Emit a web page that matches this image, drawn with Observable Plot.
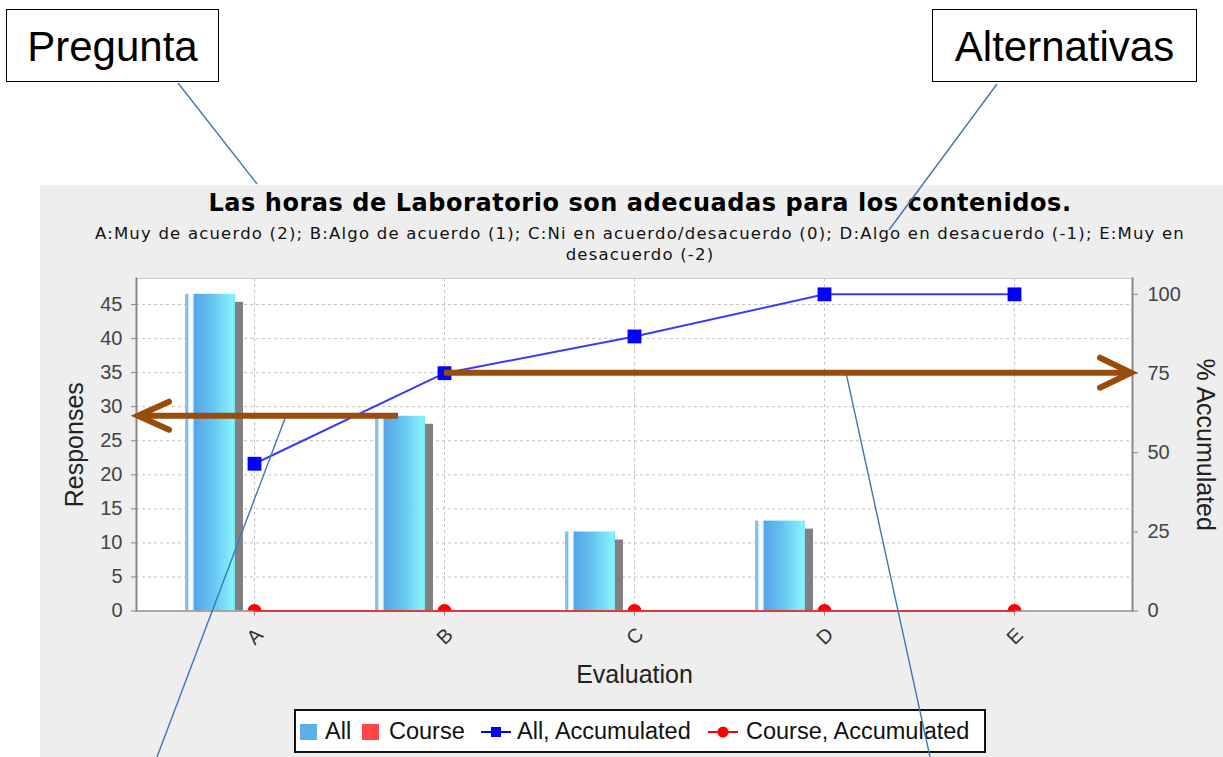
<!DOCTYPE html>
<html>
<head>
<meta charset="utf-8">
<script src="https://cdn.jsdelivr.net/npm/d3@7"></script>
<script src="https://cdn.jsdelivr.net/npm/@observablehq/plot@0.6"></script>
<style>
html, body { margin: 0; padding: 0; background: #ffffff; }
body { width: 1223px; height: 757px; position: relative; overflow: hidden; font-family: "Liberation Sans", Arial, sans-serif; }
.callout { position: absolute; border: 1.5px solid #000; background: #fff; box-sizing: border-box; }
.callout span { position: absolute; left: 0; right: 0; text-align: center; font-size: 42px; line-height: 42px; color: #000; }
#panel { position: absolute; left: 40px; top: 185px; width: 1183px; height: 572px; background: #eeeeee; }
#title { position: absolute; left: 40px; width: 1200px; top: 191px; text-align: center; font-family: "DejaVu Sans", sans-serif; font-weight: bold; font-size: 24px; letter-spacing: 0.55px; line-height: 24px; color: #000; white-space: nowrap; }
#subtitle { position: absolute; left: 40px; width: 1200px; top: 223px; text-align: center; font-family: "DejaVu Sans", sans-serif; font-size: 16.5px; letter-spacing: 1.2px; line-height: 21px; color: #111; white-space: nowrap; }
#chart { position: absolute; left: 40px; top: 270px; }
#legend { position: absolute; left: 294px; top: 709px; width: 692px; height: 44px; box-sizing: border-box; border: 2px solid #111; background: #fff; font-size: 23.5px; color: #111; }
#legend .it { position: absolute; top: 0; height: 40px; line-height: 40px; white-space: nowrap; }
#legend .sw { position: absolute; }
#overlay { position: absolute; left: 0; top: 0; pointer-events: none; }
</style>
</head>
<body>
<svg width="0" height="0" style="position:absolute">
  <defs>
    <linearGradient id="barGrad" x1="0" y1="0" x2="1" y2="0">
      <stop offset="0" stop-color="#8cc6f2"/>
      <stop offset="0.05" stop-color="#7dbdf0"/>
      <stop offset="0.075" stop-color="#e6f3fd"/>
      <stop offset="0.12" stop-color="#ffffff"/>
      <stop offset="0.165" stop-color="#dcedfb"/>
      <stop offset="0.18" stop-color="#55a4e6"/>
      <stop offset="0.55" stop-color="#66c4f0"/>
      <stop offset="0.95" stop-color="#84f2fd"/>
      <stop offset="1" stop-color="#7ae2f8"/>
    </linearGradient>
  </defs>
</svg>

<div class="callout" style="left:6px;top:9px;width:213px;height:73px;"><span style="top:16px">Pregunta</span></div>
<div class="callout" style="left:932px;top:9px;width:265px;height:73px;"><span style="top:16px">Alternativas</span></div>

<div id="panel"></div>
<div id="title">Las horas de Laboratorio son adecuadas para los contenidos.</div>
<div id="subtitle">A:Muy de acuerdo (2); B:Algo de acuerdo (1); C:Ni en acuerdo/desacuerdo (0); D:Algo en desacuerdo (-1); E:Muy en<br>desacuerdo (-2)</div>
<div id="chart"></div>

<div id="legend">
  <div class="sw" style="left:4px;top:13px;width:17px;height:16px;background:#5eaeea;"></div>
  <div class="it" style="left:29px;">All</div>
  <div class="sw" style="left:66px;top:13px;width:17px;height:16px;background:#ff4545;"></div>
  <div class="it" style="left:93px;">Course</div>
  <svg class="sw" style="left:184px;top:11px;" width="32" height="20"><line x1="1" y1="10" x2="31" y2="10" stroke="#0000ff" stroke-width="2"/><rect x="11" y="5" width="10" height="10" fill="#0000ff"/></svg>
  <div class="it" style="left:221px;">All, Accumulated</div>
  <svg class="sw" style="left:411px;top:11px;" width="32" height="20"><line x1="1" y1="10" x2="31" y2="10" stroke="#ff0000" stroke-width="2"/><circle cx="16" cy="10" r="5.5" fill="#ff0000"/></svg>
  <div class="it" style="left:450px;">Course, Accumulated</div>
</div>

<svg id="overlay" width="1223" height="757"></svg>

<script>
// ---- data ----
const categories = ["A", "B", "C", "D", "E"];
const allResponses = [46.5, 28.6, 11.6, 13.2, 0];
const courseResponses = [0, 0, 0, 0, 0];
const allAccumulated = [46.5, 75.1, 86.7, 100, 100];
const courseAccumulated = [0, 0, 0, 0, 0];
const responseTicks = [0, 5, 10, 15, 20, 25, 30, 35, 40, 45];
const accumulatedTicks = [0, 25, 50, 75, 100];

// auto-range with 5% upper margin on both axes
const yMax = d3.max(allResponses) * 1.05;
const pMax = d3.max(allAccumulated) * 1.05;
const k = yMax / pMax; // % accumulated -> responses units

const rows = categories.map((c, i) => ({
  cat: c,
  all: allResponses[i],
  course: courseResponses[i],
  allAcc: allAccumulated[i] * k,
  courseAcc: courseAccumulated[i] * k
}));

const W = 1183, H = 440, ML = 96, MR = 91, MT = 8, MB = 99.5;

const chart = Plot.plot({
  width: W, height: H,
  marginLeft: ML, marginRight: MR, marginTop: MT, marginBottom: MB,
  style: { background: "transparent", fontFamily: "'Liberation Sans', Arial, sans-serif", fontSize: "20px", color: "#444", overflow: "visible" },
  x: { type: "band", domain: categories, paddingInner: 0.7368, paddingOuter: 0.4895, align: 0.5, round: false, axis: null },
  y: { domain: [0, yMax], axis: null },
  marks: [
    Plot.frame({ fill: "white" }),
    Plot.gridY(responseTicks, { stroke: "#c2c2c2", strokeOpacity: 1, strokeDasharray: "3,3" }),
    Plot.gridX(categories, { stroke: "#c2c2c2", strokeOpacity: 1, strokeDasharray: "3,3" }),
    Plot.barY(rows, { x: "cat", y: "all", fill: "#808080", dx: -36, insetTop: 8, filter: d => d.all > 0 }),
    Plot.barY(rows, { x: "cat", y: "all", fill: "url(#barGrad)", dx: -44 }),
    Plot.barY(rows, { x: "cat", y: "course", fill: "#ff4545", dx: 6 }),
    Plot.frame({ stroke: "#c8c8c8" }),
    Plot.frame({ anchor: "left", stroke: "#888", strokeWidth: 2 }),
    Plot.frame({ anchor: "right", stroke: "#888", strokeWidth: 2 }),
    Plot.axisY(responseTicks, { anchor: "left", tickSize: 5, tickPadding: 9, stroke: "#888", fill: "#444", fontSize: 20, label: null }),
    Plot.axisY(accumulatedTicks.map(p => p * k), { anchor: "right", tickSize: 5, tickPadding: 10, stroke: "#888", fill: "#444", fontSize: 20, tickFormat: d => String(Math.round(d / k)), label: null }),
    Plot.axisX(categories, { tickSize: 5, stroke: "#888", tickFormat: () => "", label: null }),
    Plot.text(categories, { x: d => d, frameAnchor: "bottom", dy: 30, dx: 5, rotate: -45, fontSize: 20, fill: "#333", textAnchor: "middle" }),
    Plot.ruleY([0], { stroke: "#999", strokeWidth: 1.5 }),
    Plot.line(rows, { x: "cat", y: "courseAcc", stroke: "#e03a3a", strokeWidth: 2 }),
    Plot.dot(rows, { x: "cat", y: "courseAcc", r: 7, fill: "#ff0000", clip: true }),
    Plot.line(rows, { x: "cat", y: "allAcc", stroke: "#3a3aff", strokeWidth: 2 }),
    Plot.dot(rows, { x: "cat", y: "allAcc", symbol: "square", r: 7.8, fill: "#0000ff" }),
    Plot.text(["Responses"], { frameAnchor: "left", dx: -62, rotate: -90, fontSize: 25, fill: "#222", textAnchor: "middle" }),
    Plot.text(["% Accumulated"], { frameAnchor: "right", dx: 72, rotate: 90, fontSize: 25, fill: "#222", textAnchor: "middle" }),
    Plot.text(["Evaluation"], { frameAnchor: "bottom", dy: 72, fontSize: 25, fill: "#222", textAnchor: "middle" })
  ]
});
document.getElementById("chart").appendChild(chart);

// ---- annotation overlay (positions derived from the chart's scales) ----
const xs = chart.scale("x"), ys = chart.scale("y");
const ox = 40, oy = 270;
const cx = c => ox + xs.apply(c) + xs.bandwidth / 2;
const py = v => oy + ys.apply(v);
const frameL = ox + ML, frameR = ox + W - MR;

const ov = d3.select("#overlay");
const blue = "#3f76b8", brown = "#994c0c";

const yLeft = py(allResponses[1]);
const yRight = py(allAccumulated[1] * k);
const bX = cx("B");

// connector lines
const conn = [
  [178, 83, 257, 184],
  [997, 84, 889, 230],
  [286, yLeft, 157, 757],
  [846, yRight, 930, 757]
];
conn.forEach(([x1, y1, x2, y2]) => ov.append("line").attr("x1", x1).attr("y1", y1).attr("x2", x2).attr("y2", y2)
  .attr("stroke", blue).attr("stroke-width", 1.4));

// left arrow (Responses axis)
ov.append("line").attr("x1", bX - 46).attr("y1", yLeft).attr("x2", frameL + 4).attr("y2", yLeft)
  .attr("stroke", brown).attr("stroke-width", 6);
ov.append("path").attr("d", `M${frameL + 33},${yLeft - 14} L${frameL + 2},${yLeft} L${frameL + 33},${yLeft + 14}`)
  .attr("fill", "none").attr("stroke", brown).attr("stroke-width", 6).attr("stroke-linecap", "round").attr("stroke-linejoin", "miter");

// right arrow (% Accumulated axis)
ov.append("line").attr("x1", bX).attr("y1", yRight).attr("x2", frameR - 4).attr("y2", yRight)
  .attr("stroke", brown).attr("stroke-width", 6);
ov.append("path").attr("d", `M${frameR - 32},${yRight - 15} L${frameR - 1},${yRight} L${frameR - 32},${yRight + 15}`)
  .attr("fill", "none").attr("stroke", brown).attr("stroke-width", 6).attr("stroke-linecap", "round").attr("stroke-linejoin", "miter");
</script>
</body>
</html>
